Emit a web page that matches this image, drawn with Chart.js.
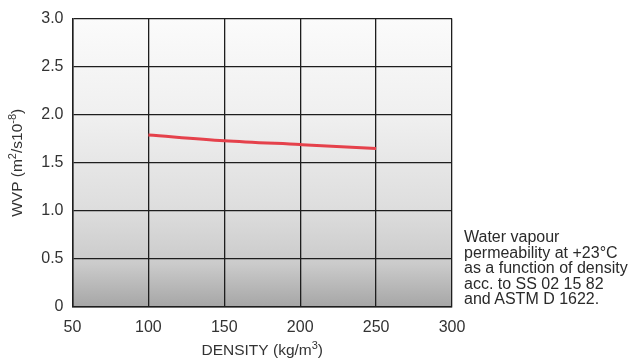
<!DOCTYPE html>
<html>
<head>
<meta charset="utf-8">
<script src="https://cdn.jsdelivr.net/npm/chart.js@4"></script>
<style>
  html, body { margin: 0; padding: 0; background: #fff; }
  #wrap { position: relative; width: 635px; height: 358px; }
  #note {
    position: absolute; left: 464px; top: 229px;
    font-family: "Liberation Sans", Arial, sans-serif;
    font-size: 16px; line-height: 15.5px; color: #2a2a2a;
    white-space: nowrap;
  }
</style>
</head>
<body>
<div id="wrap">
  <canvas id="chart" width="635" height="358"></canvas>
  <div id="note">Water vapour<br>permeability at +23°C<br>as a function of density<br>acc. to SS 02 15 82<br>and ASTM D 1622.</div>
</div>
<script>
const density = [100, 150, 200, 250];
const wvp = [1.79, 1.73, 1.69, 1.65];
const xTicks = [50, 100, 150, 200, 250, 300];
const yTicks = [0, 0.5, 1.0, 1.5, 2.0, 2.5, 3.0];

// axis titles, split so the exponents can be raised
const xTitle = [["DENSITY (kg/m", false], ["3", true], [")", false]];
const yTitle = [["WVP (m", false], ["2", true], ["/s10", false], ["-8", true], [")", false]];

const fontFamily = '"Liberation Sans", "DejaVu Sans", Arial, sans-serif';
const textColor = "#333";

// grey gradient behind the plot area
const plotBackground = {
  id: "plotBackground",
  beforeDraw(chart) {
    const { ctx, chartArea: a } = chart;
    const g = ctx.createLinearGradient(0, a.top, 0, a.bottom);
    g.addColorStop(0, "#fbfbfb");
    g.addColorStop(0.35, "#efefef");
    g.addColorStop(0.65, "#dedede");
    g.addColorStop(0.85, "#cbcbcb");
    g.addColorStop(1, "#a6a6a6");
    ctx.save();
    ctx.fillStyle = g;
    ctx.fillRect(a.left, a.top, a.right - a.left, a.bottom - a.top);
    ctx.restore();
  },
};

function drawRich(ctx, parts, size) {
  const big = size + "px " + fontFamily;
  const small = Math.round(size * 0.7) + "px " + fontFamily;
  let total = 0;
  parts.forEach(([t, sup]) => {
    ctx.font = sup ? small : big;
    total += ctx.measureText(t).width;
  });
  let x = -total / 2;
  parts.forEach(([t, sup]) => {
    ctx.font = sup ? small : big;
    ctx.fillText(t, x, sup ? -size * 0.38 : 0);
    x += ctx.measureText(t).width;
  });
}

// axis titles with real superscripts
const axisTitles = {
  id: "axisTitles",
  afterDraw(chart) {
    const { ctx, chartArea: a } = chart;
    ctx.save();
    ctx.fillStyle = textColor;
    ctx.textBaseline = "alphabetic";
    ctx.textAlign = "left";
    ctx.save();
    ctx.translate((a.left + a.right) / 2, 354.5);
    drawRich(ctx, xTitle, 15.5);
    ctx.restore();
    ctx.save();
    ctx.translate(22, (a.top + a.bottom) / 2);
    ctx.rotate(-Math.PI / 2);
    drawRich(ctx, yTitle, 15.5);
    ctx.restore();
    ctx.restore();
  },
};

new Chart(document.getElementById("chart"), {
  type: "line",
  data: {
    datasets: [
      {
        data: density.map((d, i) => ({ x: d, y: wvp[i] })),
        borderColor: "#e5414b",
        borderWidth: 3,
        pointRadius: 0,
        cubicInterpolationMode: "monotone",
        fill: false,
      },
    ],
  },
  options: {
    responsive: false,
    animation: false,
    layout: { padding: { top: 17, right: 183, left: 0, bottom: 0 } },
    plugins: { legend: { display: false }, tooltip: { enabled: false } },
    scales: {
      x: {
        type: "linear",
        min: 50,
        max: 300,
        afterBuildTicks: (s) => { s.ticks = xTicks.map((v) => ({ value: v })); },
        afterFit: (s) => { s.height = 51; },
        grid: { color: "#1e1e1e", lineWidth: 1.3, drawTicks: false },
        border: { color: "#1e1e1e", width: 1.5 },
        ticks: {
          padding: 11,
          color: textColor,
          font: { family: fontFamily, size: 16 },
        },
      },
      y: {
        min: 0,
        max: 3,
        afterBuildTicks: (s) => { s.ticks = yTicks.map((v) => ({ value: v })); },
        afterFit: (s) => { s.width = 72.5; },
        grid: { color: "#1e1e1e", lineWidth: 1.3, drawTicks: false },
        border: { color: "#1e1e1e", width: 1.5 },
        ticks: {
          padding: 9,
          color: textColor,
          font: { family: fontFamily, size: 16 },
          callback: (v) => (v === 0 ? "0" : v.toFixed(1)),
        },
      },
    },
  },
  plugins: [plotBackground, axisTitles],
});
</script>
</body>
</html>
